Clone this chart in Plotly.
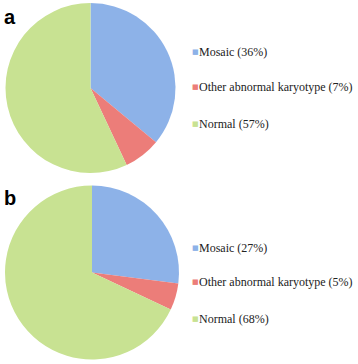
import plotly.graph_objects as go

categories = ["Mosaic", "Other abnormal karyotype", "Normal"]
values_a = [36, 7, 57]
values_b = [27, 5, 68]
panel_labels = ["a", "b"]
colors = ["#8db2e8", "#ec7d79", "#c8e292"]

fig = go.Figure()
domains = [dict(x=[5/358, 176/358], y=[1-173/364, 1-3/364]),
           dict(x=[5/358, 179/358], y=[1-360/364, 1-185/364])]
for vals, dom in zip([values_a, values_b], domains):
    fig.add_trace(go.Pie(
        labels=categories, values=vals, sort=False, direction="clockwise",
        rotation=0, domain=dom, textinfo="none", hoverinfo="label+percent",
        marker=dict(colors=colors, line=dict(width=0)), showlegend=False))

# legends as text annotations built from the data
legend_rows = [[52, 87, 124], [248, 282, 319]]
for vals, rows in zip([values_a, values_b], legend_rows):
    for cat, v, c, yy in zip(categories, vals, colors, rows):
        fig.add_annotation(x=190/358, y=1-yy/364, xref="paper", yref="paper",
                           xanchor="left", yanchor="middle", showarrow=False,
                           text="■",
                           font=dict(family="DejaVu Sans", size=7, color=c))
        fig.add_annotation(x=197/358, y=1-yy/364, xref="paper", yref="paper",
                           xanchor="left", yanchor="middle", showarrow=False,
                           text=f"{cat} ({v}%)",
                           font=dict(family="Liberation Serif", size=12, color="#222222"))

for lab, yy in zip(panel_labels, [17, 198]):
    fig.add_annotation(x=2/358, y=1-yy/364, xref="paper", yref="paper",
                       xanchor="left", yanchor="middle", showarrow=False,
                       text=f"<b>{lab}</b>",
                       font=dict(family="Liberation Sans", size=20, color="#000000"))

fig.update_layout(width=358, height=364, margin=dict(l=0, r=0, t=0, b=0),
                  paper_bgcolor="white", plot_bgcolor="white")
fig.write_html("out.html", config={"displayModeBar": False},
               post_script="document.body.style.margin='0';")
